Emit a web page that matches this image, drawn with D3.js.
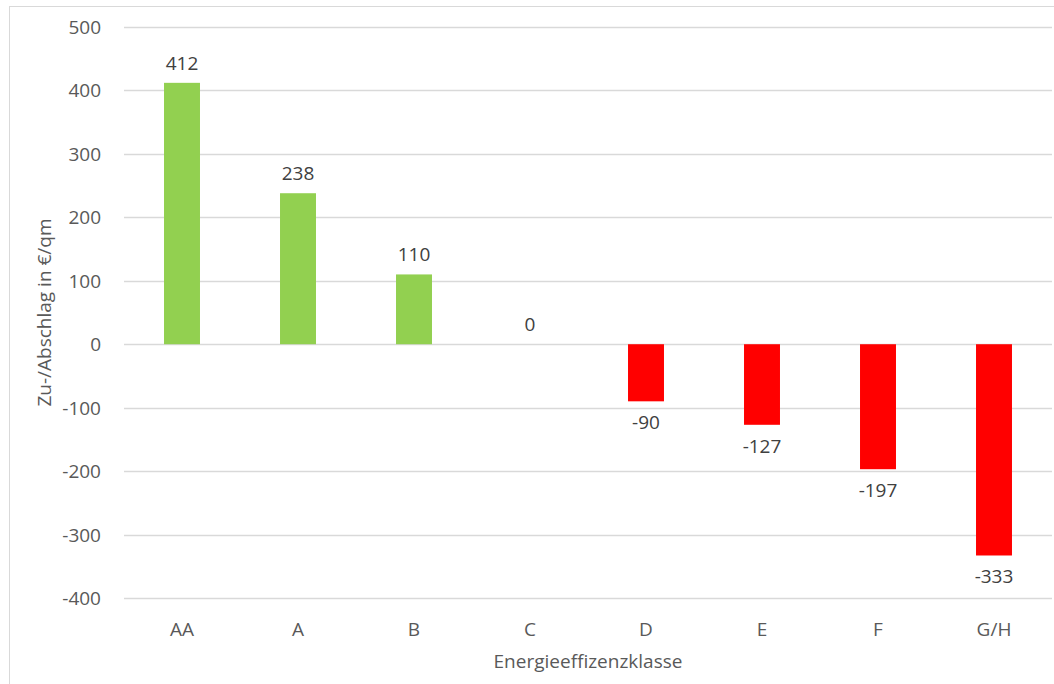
<html lang="de">
<head>
  <meta charset="utf-8">
  <title>Energieeffizienzklasse</title>
  <script src="https://d3js.org/d3.v7.min.js"></script>
  <style>
    html, body { margin:0; padding:0; background:#fff; }
    svg { display:block; font-family:"Open Sans", sans-serif; }
  </style>
</head>
<body>
<svg width="1054" height="684"></svg>
<script>
const categories = ["AA", "A", "B", "C", "D", "E", "F", "G/H"];
const values = [412, 238, 110, 0, -90, -127, -197, -333];
const yTicks = [-400, -300, -200, -100, 0, 100, 200, 300, 400, 500];

const svg = d3.select("svg");
const plotLeft = 124, plotRight = 1052, plotTop = 27, plotBottom = 598;

// chart frame (cropped at right and bottom)
svg.append("rect")
  .attr("x", 9.5).attr("y", 6.5)
  .attr("width", 1100).attr("height", 800)
  .attr("fill", "none").attr("stroke", "#d9d9d9");

const x = d3.scaleBand().domain(categories).range([plotLeft, plotRight]).paddingInner(0.69).paddingOuter(0.345);
const y = d3.scaleLinear().domain([-400, 500]).range([plotBottom, plotTop]);

// gridlines
svg.append("g")
  .selectAll("line")
  .data(yTicks)
  .join("line")
  .attr("x1", plotLeft).attr("x2", plotRight)
  .attr("y1", d => Math.round(y(d)) + 0.5)
  .attr("y2", d => Math.round(y(d)) + 0.5)
  .attr("stroke", "#d9d9d9")
  .attr("stroke-width", 1.3);

// y tick labels
svg.append("g")
  .selectAll("text")
  .data(yTicks)
  .join("text")
  .attr("x", 101)
  .attr("y", d => y(d))
  .attr("text-anchor", "end")
  .attr("dominant-baseline", "central")
  .attr("font-size", 19)
  .attr("fill", "#595959")
  .text(d => d);

// bars
svg.append("g")
  .selectAll("rect")
  .data(values)
  .join("rect")
  .attr("x", (d, i) => x(categories[i]))
  .attr("width", x.bandwidth())
  .attr("y", d => y(Math.max(0, d)))
  .attr("height", d => Math.abs(y(d) - y(0)))
  .attr("fill", d => d >= 0 ? "#92d050" : "#ff0000");

// value labels
svg.append("g")
  .selectAll("text")
  .data(values)
  .join("text")
  .attr("x", (d, i) => x(categories[i]) + x.bandwidth() / 2)
  .attr("y", d => d >= 0 ? y(d) - 20 : y(d) + 21)
  .attr("text-anchor", "middle")
  .attr("dominant-baseline", "central")
  .attr("font-size", 19)
  .attr("fill", "#404040")
  .text(d => d);

// category labels
svg.append("g")
  .selectAll("text")
  .data(categories)
  .join("text")
  .attr("x", d => x(d) + x.bandwidth() / 2)
  .attr("y", 629)
  .attr("text-anchor", "middle")
  .attr("dominant-baseline", "central")
  .attr("font-size", 19)
  .attr("fill", "#595959")
  .text(d => d);

// axis titles
svg.append("text")
  .attr("x", (plotLeft + plotRight) / 2)
  .attr("y", 661)
  .attr("text-anchor", "middle")
  .attr("dominant-baseline", "central")
  .attr("font-size", 19)
  .attr("fill", "#595959")
  .text("Energieeffizenzklasse");

svg.append("text")
  .attr("transform", `translate(44,${(plotTop + plotBottom) / 2}) rotate(-90)`)
  .attr("text-anchor", "middle")
  .attr("dominant-baseline", "central")
  .attr("font-size", 19)
  .attr("fill", "#595959")
  .text("Zu-/Abschlag in €/qm");
</script>
</body>
</html>
